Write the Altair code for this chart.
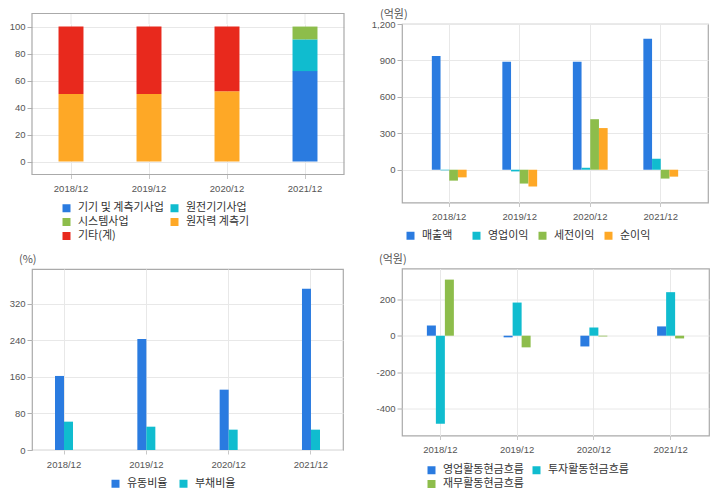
import altair as alt
import pandas as pd

periods = ["2018/12", "2019/12", "2020/12", "2021/12"]

# Panel 1: 매출 구성 (%)
seg_names = ["기기 및 계측기사업", "원전기기사업", "시스템사업", "원자력 계측기", "기타(계)"]
seg_colors = ["#2a7be0", "#10bccf", "#8dbd4b", "#fea826", "#e8291d"]
seg_기기 = [0, 0, 0, 67]
seg_원전 = [0, 0, 0, 23.5]
seg_시스템 = [0, 0, 0, 9.5]
seg_원자력 = [50, 50, 52, 0]
seg_기타 = [50, 50, 48, 0]

# Panel 2: 손익 (억원)
inc_names = ["매출액", "영업이익", "세전이익", "순이익"]
inc_colors = ["#2a7be0", "#10bccf", "#8dbd4b", "#fea826"]
inc_매출액 = [936, 890, 890, 1078]
inc_영업이익 = [-5, -14, 16, 90]
inc_세전이익 = [-90, -114, 416, -73]
inc_순이익 = [-63, -139, 343, -57]

# Panel 3: 비율 (%)
ratio_names = ["유동비율", "부채비율"]
ratio_colors = ["#2a7be0", "#10bccf"]
ratio_유동 = [162, 243, 132, 353]
ratio_부채 = [62, 51, 44.5, 44.5]

# Panel 4: 현금흐름 (억원)
cf_names = ["영업활동현금흐름", "투자활동현금흐름", "재무활동현금흐름"]
cf_colors = ["#2a7be0", "#10bccf", "#8dbd4b"]
cf_영업 = [56, -9, -59, 51]
cf_투자 = [-484, 182, 45, 239]
cf_재무 = [308, -64, -4, -15]

FONT_CJK = "Noto Sans CJK KR"
FONT_NUM = "Liberation Sans"
GRID = "#e8e8e8"
FRAME = "#aaaaaa"


def long_table(names, series):
    rows = []
    for i, (n, vals) in enumerate(zip(names, series)):
        for p, v in zip(periods, vals):
            rows.append({"period": p, "series": n, "value": v, "idx": i})
    return pd.DataFrame(rows)


def x_axis():
    return alt.Axis(title=None, labelAngle=0, grid=True, gridColor=GRID,
                    tickColor="#c8c8c8", tickSize=4, labelPadding=5, labelFontSize=9.5,
                    labelColor="#555", labelFont=FONT_NUM, domain=False, bandPosition=0.5)


def y_axis(values, expr=None):
    kw = dict(title=None, values=values, grid=True, gridColor=GRID,
              tickColor="#b0b0b0", tickSize=5, labelPadding=2, labelFontSize=9.5,
              labelColor="#555", labelFont=FONT_NUM, domain=False)
    if expr:
        kw["labelExpr"] = expr
    return alt.Axis(**kw)


def legend(x, y, columns, grid_align="each", col_pad=8, row_pad=2):
    return alt.Legend(title=None, orient="none", legendX=x, legendY=y,
                      direction="horizontal", columns=columns, gridAlign=grid_align,
                      symbolType="square", symbolSize=64, symbolStrokeWidth=0,
                      labelFontSize=11, labelFont=FONT_CJK, labelColor="#333",
                      labelOffset=6, columnPadding=col_pad, rowPadding=row_pad)


def unit_text(text, dx, dy):
    # unit label drawn near the top-left corner of a plot
    return alt.Chart(pd.DataFrame({"unit": [text]})).mark_text(
        align="left", baseline="middle", fontSize=11, font=FONT_CJK, color="#555"
    ).encode(text="unit:N", x=alt.value(dx), y=alt.value(dy))


def grouped(df, names, colors, x_scale, y_enc, leg, bar_w, extra, w, h):
    n = len(names)
    layers = []
    for i, name in enumerate(names):
        layers.append(
            alt.Chart(df).transform_filter(alt.datum.series == name)
            .mark_bar(width=bar_w, xOffset=(i - (n - 1) / 2) * bar_w)
            .encode(
                x=alt.X("period:N", sort=periods, axis=x_axis(), scale=x_scale),
                y=y_enc,
                color=alt.Color("series:N", sort=names,
                                scale=alt.Scale(domain=names, range=colors), legend=leg),
            )
        )
    layers.extend(extra)
    return alt.layer(*layers).properties(width=w, height=h)


# ---- Panel 1 ----
P1_W, P1_H, P1_TOP = 312, 150.5, 10.5   # frame extends P1_TOP px above the plot area
df1 = long_table(seg_names, [seg_기기, seg_원전, seg_시스템, seg_원자력, seg_기타])
df1 = df1[df1["value"] > 0]
x1 = alt.X("period:N", sort=periods, axis=x_axis(),
           scale=alt.Scale(paddingInner=0.68, paddingOuter=0.34))
p1_gridext = alt.Chart(pd.DataFrame({"period": periods})).mark_rule(
    color=GRID, strokeWidth=1
).encode(x=x1, y=alt.value(-P1_TOP), y2=alt.value(0))
p1_bars = alt.Chart(df1).mark_bar().encode(
    x=x1,
    y=alt.Y("value:Q", stack="zero", axis=y_axis([0, 20, 40, 60, 80, 100]),
            scale=alt.Scale(domain=[-9.6, 101.9], nice=False, zero=False)),
    color=alt.Color("series:N", sort=seg_names,
                    scale=alt.Scale(domain=seg_names, range=seg_colors),
                    legend=legend(29, 178.5, 2, col_pad=5, row_pad=2)),
    order=alt.Order("idx:Q", sort="ascending"),
)
p1_frame = alt.Chart(pd.DataFrame({"f": [0]})).mark_rect(
    fillOpacity=0, stroke=FRAME, strokeWidth=1.2
).encode(x=alt.value(0), x2=alt.value(P1_W), y=alt.value(-P1_TOP), y2=alt.value(P1_H))
# unit label of the panel below ("(%)"), kept with this panel for layout
p3_unit = unit_text("(%)", -13, 235.5)
p1 = alt.layer(p1_gridext, p1_bars, p1_frame, p3_unit).properties(
    width=P1_W, height=P1_H, view=alt.ViewBackground(stroke="transparent"))

# ---- Panel 2 ----
df2 = long_table(inc_names, [inc_매출액, inc_영업이익, inc_세전이익, inc_순이익])
p2 = grouped(
    df2, inc_names, inc_colors,
    alt.Scale(paddingInner=0.5, paddingOuter=0.42),
    alt.Y("value:Q", axis=y_axis([0, 300, 600, 900, 1200]),
          scale=alt.Scale(domain=[-270, 1200], nice=False, zero=False)),
    legend(3, 206, 4, grid_align="all", col_pad=8),
    8.7, [unit_text("(억원)", -22, -9)], 306, 178.5)

# ---- Panel 3 ----
df3 = long_table(ratio_names, [ratio_유동, ratio_부채])
p3 = grouped(
    df3, ratio_names, ratio_colors,
    alt.Scale(paddingInner=0.5, paddingOuter=0.139),
    alt.Y("value:Q", axis=y_axis([0, 80, 160, 240, 320]),
          scale=alt.Scale(domain=[0, 396], nice=False)),
    legend(78, 209, 2, col_pad=10),
    9, [], 311, 181)

# ---- Panel 4 ----
df4 = long_table(cf_names, [cf_영업, cf_투자, cf_재무])
p4 = grouped(
    df4, cf_names, cf_colors,
    alt.Scale(paddingInner=0.5, paddingOuter=0.25),
    alt.Y("value:Q", axis=y_axis([-400, -200, 0, 200], expr="datum.value + ''"),
          scale=alt.Scale(domain=[-548, 369], nice=False, zero=False)),
    legend(24, 196, 2, col_pad=7, row_pad=2),
    9, [unit_text("(억원)", -23, -9)], 307, 167)

left = alt.vconcat(p1, p3, spacing=2).resolve_scale(color="independent", x="independent", y="independent")
right = alt.vconcat(p2, p4, spacing=10.5).resolve_scale(color="independent", x="independent", y="independent")

chart = alt.concat(left, right, columns=2, align="none", spacing=24).resolve_scale(
    color="independent", x="independent", y="independent"
).properties(
    padding={"left": 0, "top": 0, "right": 0, "bottom": 0}
).configure(background="white").configure_view(stroke=FRAME, strokeWidth=1.2)

chart.save("out.html", embed_options={"renderer": "svg", "actions": False})
